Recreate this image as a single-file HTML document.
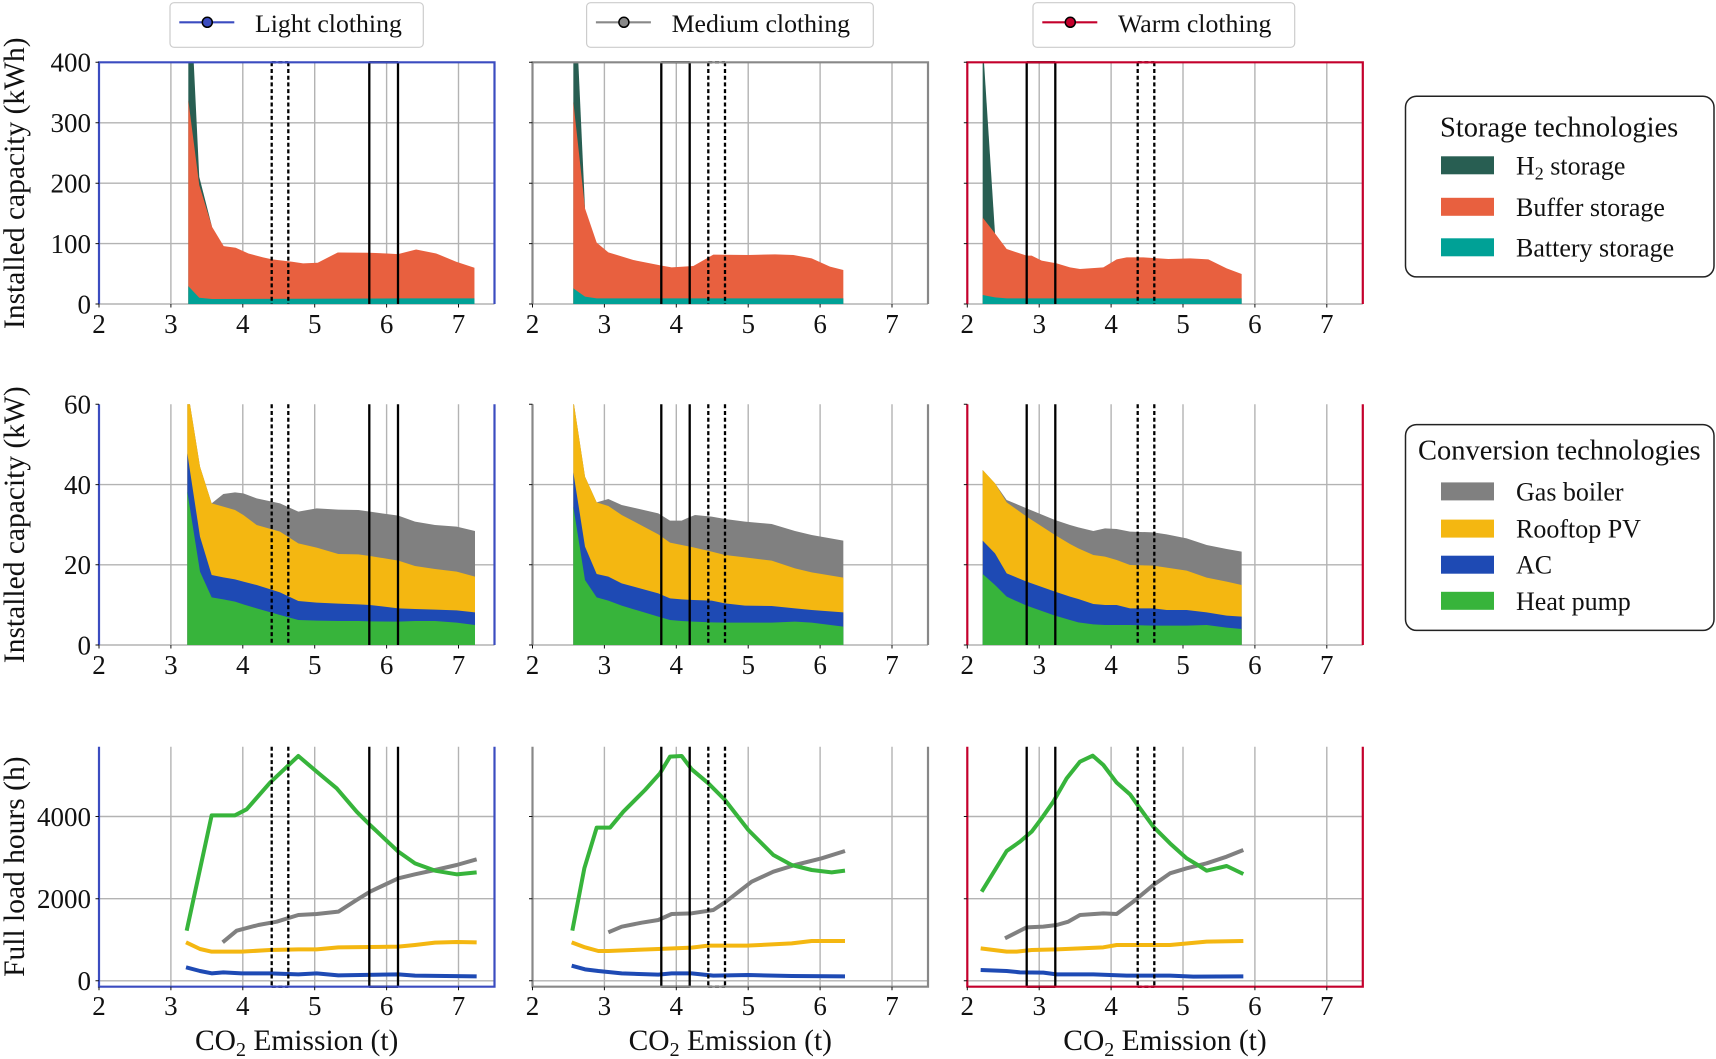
<!DOCTYPE html>
<html>
<head>
<meta charset="utf-8">
<style>
html,body{margin:0;padding:0;background:#fff;}
svg{display:block;}
text{font-family:"Liberation Serif","DejaVu Serif",serif;fill:#111;}
</style>
</head>
<body>
<svg width="1716" height="1059" viewBox="0 0 1716 1059" xmlns="http://www.w3.org/2000/svg">
<defs>
<clipPath id="c11"><rect x="99" y="62.3" width="395.5" height="241.7"/></clipPath>
<clipPath id="c12"><rect x="532.5" y="62.3" width="395.5" height="241.7"/></clipPath>
<clipPath id="c13"><rect x="967.3" y="62.3" width="395.5" height="241.7"/></clipPath>
<clipPath id="c21"><rect x="99" y="404.3" width="395.5" height="240.7"/></clipPath>
<clipPath id="c22"><rect x="532.5" y="404.3" width="395.5" height="240.7"/></clipPath>
<clipPath id="c23"><rect x="967.3" y="404.3" width="395.5" height="240.7"/></clipPath>
</defs>

<!-- ============ GRIDLINES ============ -->
<g stroke="#b3b3b3" stroke-width="1.4" fill="none">
  <!-- row1 -->
  <path d="M99,122.8H494.5M99,183.2H494.5M99,243.6H494.5M99,304H494.5
           M170.9,62.3V304M242.8,62.3V304M314.7,62.3V304M386.6,62.3V304M458.5,62.3V304"/>
  <path d="M532.5,122.8H928M532.5,183.2H928M532.5,243.6H928M532.5,304H928
           M604.4,62.3V304M676.3,62.3V304M748.2,62.3V304M820.1,62.3V304M892,62.3V304"/>
  <path d="M967.3,122.8H1362.8M967.3,183.2H1362.8M967.3,243.6H1362.8M967.3,304H1362.8
           M1039.2,62.3V304M1111.1,62.3V304M1183,62.3V304M1254.9,62.3V304M1326.8,62.3V304"/>
  <!-- row2 -->
  <path d="M99,484.6H494.5M99,564.8H494.5M99,645H494.5
           M170.9,404.3V645M242.8,404.3V645M314.7,404.3V645M386.6,404.3V645M458.5,404.3V645"/>
  <path d="M532.5,484.6H928M532.5,564.8H928M532.5,645H928
           M604.4,404.3V645M676.3,404.3V645M748.2,404.3V645M820.1,404.3V645M892,404.3V645"/>
  <path d="M967.3,484.6H1362.8M967.3,564.8H1362.8M967.3,645H1362.8
           M1039.2,404.3V645M1111.1,404.3V645M1183,404.3V645M1254.9,404.3V645M1326.8,404.3V645"/>
  <!-- row3 -->
  <path d="M99,816.5H494.5M99,898.7H494.5M99,980.8H494.5
           M170.9,746.7V986.7M242.8,746.7V986.7M314.7,746.7V986.7M386.6,746.7V986.7M458.5,746.7V986.7"/>
  <path d="M532.5,816.5H928M532.5,898.7H928M532.5,980.8H928
           M604.4,746.7V986.7M676.3,746.7V986.7M748.2,746.7V986.7M820.1,746.7V986.7M892,746.7V986.7"/>
  <path d="M967.3,816.5H1362.8M967.3,898.7H1362.8M967.3,980.8H1362.8
           M1039.2,746.7V986.7M1111.1,746.7V986.7M1183,746.7V986.7M1254.9,746.7V986.7M1326.8,746.7V986.7"/>
</g>

<!-- ============ ROW 1 : storage ============ -->
<g clip-path="url(#c11)">
  <g transform="matrix(0.3645 0 0 0.333 0.6 0.36)">
    <polygon fill="#285e52" points="515,912 515,-150 545,530 580,680 580,912"/>
    <polygon fill="#e8603f" points="515,912 515,300 545,555 580,680 612,738 645,743 680,760 720,772 745,778 800,785 830,790 870,788 925,757 1010,758 1060,760 1090,762 1140,748 1195,760 1250,785 1300,803 1300,912"/>
    <polygon fill="#00a196" points="515,912 515,858 545,893 580,897 1100,895 1300,895 1300,912"/>
  </g>
</g>
<g clip-path="url(#c12)">
  <g transform="translate(525,50) scale(0.33333)">
    <polygon fill="#285e52" points="145,762 145,-290 180,475 180,762"/>
    <polygon fill="#e8603f" points="145,762 145,155 180,475 215,578 250,607 325,630 410,647 440,652 505,648 565,614 670,615 750,613 805,615 860,625 915,650 955,660 955,762"/>
    <polygon fill="#00a196" points="145,762 145,715 180,740 215,745 955,745 955,762"/>
  </g>
</g>
<g clip-path="url(#c13)">
  <g transform="translate(960,50) scale(0.33333)">
    <polygon fill="#285e52" points="68,762 68,-25 105,550 105,762"/>
    <polygon fill="#e8603f" points="68,762 68,503 105,550 140,597 200,617 215,617 245,632 290,640 330,652 360,657 430,652 470,628 500,622 550,622 625,627 690,625 745,628 800,655 845,672 845,762"/>
    <polygon fill="#00a196" points="68,762 68,735 105,742 140,745 845,745 845,762"/>
  </g>
</g>

<!-- ============ ROW 2 : conversion ============ -->
<g clip-path="url(#c21)">
  <g transform="translate(90,395) scale(0.33333)">
    <polygon fill="#808080" points="292,750 292,-22 330,215 365,325 400,297 435,292 460,295 500,310 570,325 625,350 680,340 745,344 805,345 840,350 925,362 975,380 1035,390 1100,395 1155,408 1155,750"/>
    <polygon fill="#f4b711" points="292,750 292,-22 330,215 365,325 400,335 435,345 460,360 500,390 570,410 625,445 680,458 745,477 805,478 840,483 925,497 975,513 1035,522 1100,530 1155,545 1155,750"/>
    <polygon fill="#1e4ab4" points="292,750 292,175 330,425 365,540 400,547 435,553 460,560 500,570 570,592 625,618 680,623 745,626 805,628 840,630 925,640 975,642 1035,644 1100,646 1155,652 1155,750"/>
    <polygon fill="#37b43b" points="292,750 292,290 330,530 365,607 400,613 435,620 460,628 500,640 570,660 625,675 680,677 745,678 805,678 840,679 925,680 975,678 1035,678 1100,683 1155,690 1155,750"/>
  </g>
</g>
<g clip-path="url(#c22)">
  <g transform="translate(525,395) scale(0.33333)">
    <polygon fill="#808080" points="145,750 145,15 180,245 215,322 250,312 290,330 400,355 435,377 470,377 490,368 510,360 560,365 600,372 660,380 740,387 810,408 860,420 955,437 955,750"/>
    <polygon fill="#f4b711" points="145,750 145,15 180,245 215,322 250,333 290,360 400,418 435,443 470,450 505,457 560,470 600,480 660,487 740,497 810,520 860,532 955,548 955,750"/>
    <polygon fill="#1e4ab4" points="145,750 145,232 180,455 215,537 250,545 290,565 400,595 435,610 470,613 505,615 560,617 600,625 660,632 740,633 810,640 860,645 955,652 955,750"/>
    <polygon fill="#37b43b" points="145,750 145,335 180,555 215,607 250,617 290,632 400,665 435,675 470,678 505,680 560,682 600,683 660,683 740,683 810,680 860,683 955,695 955,750"/>
  </g>
</g>
<g clip-path="url(#c23)">
  <g transform="translate(960,395) scale(0.33333)">
    <polygon fill="#808080" points="68,750 68,225 105,265 140,315 200,340 285,375 330,390 355,397 400,408 435,400 470,402 510,410 580,412 620,418 680,430 740,450 800,462 845,470 845,750"/>
    <polygon fill="#f4b711" points="68,750 68,225 105,265 140,322 200,365 285,420 330,447 355,460 400,480 435,485 470,495 510,510 580,512 620,518 680,527 740,548 800,560 845,570 845,750"/>
    <polygon fill="#1e4ab4" points="68,750 68,437 105,475 140,535 200,560 285,590 330,605 355,612 400,627 435,630 470,630 510,640 580,640 620,645 680,645 740,652 800,662 845,665 845,750"/>
    <polygon fill="#37b43b" points="68,750 68,537 105,570 140,605 200,632 285,662 330,675 355,682 400,688 435,690 470,690 510,690 580,692 620,692 680,692 740,690 800,698 845,702 845,750"/>
  </g>
</g>

<!-- ============ ROW 3 : full load hours ============ -->
<g fill="none" stroke-width="12" stroke-linejoin="round">
  <g transform="translate(90,740) scale(0.33333)">
    <polyline stroke="#808080" points="398,607 440,572 505,555 560,545 625,525 680,522 745,515 800,480 840,455 925,415 975,403 1035,390 1100,375 1160,358"/>
    <polyline stroke="#f4b711" points="288,607 330,627 365,635 455,635 540,630 625,628 680,628 745,622 925,620 975,615 1035,608 1100,606 1160,607"/>
    <polyline stroke="#1e4ab4" points="288,682 330,693 365,700 400,697 455,700 540,700 625,703 680,700 745,706 925,703 975,707 1160,709"/>
    <polyline stroke="#37b43b" points="290,572 365,226 435,226 470,208 540,128 625,48 680,95 740,145 800,215 840,255 925,335 975,370 1035,392 1100,403 1160,397"/>
  </g>
  <g transform="translate(525,740) scale(0.33333)">
    <polyline stroke="#808080" points="250,577 290,560 350,548 400,540 440,522 500,520 565,510 600,487 680,425 745,395 810,375 890,355 960,333"/>
    <polyline stroke="#f4b711" points="140,607 180,622 220,633 250,633 400,627 500,623 550,617 665,617 800,610 860,603 960,603"/>
    <polyline stroke="#1e4ab4" points="140,677 180,688 220,693 290,700 400,704 440,700 500,700 565,707 670,705 800,708 960,709"/>
    <polyline stroke="#37b43b" points="142,572 178,385 215,263 255,263 295,215 360,150 405,100 435,50 470,48 500,88 550,130 600,180 670,270 745,345 800,375 860,390 920,397 960,392"/>
  </g>
  <g transform="translate(960,740) scale(0.33333)">
    <polyline stroke="#808080" points="135,595 200,562 250,560 290,555 325,545 360,525 430,520 470,522 520,485 580,435 630,400 680,385 740,370 800,350 850,330"/>
    <polyline stroke="#f4b711" points="62,625 140,635 170,635 215,630 290,628 360,625 430,622 470,615 630,615 740,605 850,603"/>
    <polyline stroke="#1e4ab4" points="62,690 140,693 180,697 250,698 290,703 400,703 500,707 630,707 700,710 850,709"/>
    <polyline stroke="#37b43b" points="65,455 140,333 180,305 215,275 245,235 280,185 320,115 360,65 398,47 430,75 470,128 510,163 540,205 580,260 630,310 680,355 710,373 740,392 800,378 850,402"/>
  </g>
</g>

<!-- ============ VERTICAL MARKER LINES ============ -->
<g stroke="#000" stroke-width="2.3" fill="none">
  <!-- col1 solid -->
  <path d="M369.3,62.3V304M398,62.3V304M369.3,62.3H398
           M369.3,404.3V645M398,404.3V645
           M369.3,746.7V986.7M398,746.7V986.7M369.3,986.7H398"/>
  <!-- col2 solid -->
  <path d="M661.3,62.3V304M689.7,62.3V304M661.3,62.3H689.7
           M661.3,404.3V645M689.7,404.3V645
           M661.3,746.7V986.7M689.7,746.7V986.7M661.3,986.7H689.7"/>
  <!-- col3 solid -->
  <path d="M1026.7,62.3V304M1055.3,62.3V304M1026.7,62.3H1055.3
           M1026.7,404.3V645M1055.3,404.3V645
           M1026.7,746.7V986.7M1055.3,746.7V986.7M1026.7,986.7H1055.3"/>
</g>
<g stroke="#000" stroke-width="2.3" fill="none" stroke-dasharray="4 2.7">
  <path d="M271.7,62.3V304M288.3,62.3V304M271.7,62.3H288.3
           M271.7,404.3V645M288.3,404.3V645
           M271.7,746.7V986.7M288.3,746.7V986.7M271.7,986.7H288.3"/>
  <path d="M708.3,62.3V304M725,62.3V304M708.3,62.3H725
           M708.3,404.3V645M725,404.3V645
           M708.3,746.7V986.7M725,746.7V986.7M708.3,986.7H725"/>
  <path d="M1137.7,62.3V304M1154.3,62.3V304M1137.7,62.3H1154.3
           M1137.7,404.3V645M1154.3,404.3V645
           M1137.7,746.7V986.7M1154.3,746.7V986.7M1137.7,986.7H1154.3"/>
</g>

<!-- ============ SPINES ============ -->
<g fill="none" stroke-width="2.2">
  <path stroke="#3b4cc0" d="M99,304V62.3H494.5V304 M99,404.3V645 M494.5,404.3V645 M99,746.7V986.7H494.5V746.7"/>
  <path stroke="#888888" d="M532.5,304V62.3H928V304 M532.5,404.3V645 M928,404.3V645 M532.5,746.7V986.7H928V746.7"/>
  <path stroke="#c4002c" d="M967.3,304V62.3H1362.8V304 M967.3,404.3V645 M1362.8,404.3V645 M967.3,746.7V986.7H1362.8V746.7"/>
</g>

<!-- ============ TICK MARKS ============ -->
<g stroke="#111" stroke-width="1">
  <path d="M95.5,62.3H99M95.5,122.8H99M95.5,183.2H99M95.5,243.6H99M95.5,304H99
           M529,62.3H532.5M529,122.8H532.5M529,183.2H532.5M529,243.6H532.5M529,304H532.5
           M963.8,62.3H967.3M963.8,122.8H967.3M963.8,183.2H967.3M963.8,243.6H967.3M963.8,304H967.3
           M95.5,404.3H99M95.5,484.6H99M95.5,564.8H99M95.5,645H99
           M529,404.3H532.5M529,484.6H532.5M529,564.8H532.5M529,645H532.5
           M963.8,404.3H967.3M963.8,484.6H967.3M963.8,564.8H967.3M963.8,645H967.3
           M95.5,816.5H99M95.5,898.7H99M95.5,980.8H99
           M529,816.5H532.5M529,898.7H532.5M529,980.8H532.5
           M963.8,816.5H967.3M963.8,898.7H967.3M963.8,980.8H967.3"/>
  <path d="M99,304V307.5M170.9,304V307.5M242.8,304V307.5M314.7,304V307.5M386.6,304V307.5M458.5,304V307.5
           M532.5,304V307.5M604.4,304V307.5M676.3,304V307.5M748.2,304V307.5M820.1,304V307.5M892,304V307.5
           M967.3,304V307.5M1039.2,304V307.5M1111.1,304V307.5M1183,304V307.5M1254.9,304V307.5M1326.8,304V307.5
           M99,645V648.5M170.9,645V648.5M242.8,645V648.5M314.7,645V648.5M386.6,645V648.5M458.5,645V648.5
           M532.5,645V648.5M604.4,645V648.5M676.3,645V648.5M748.2,645V648.5M820.1,645V648.5M892,645V648.5
           M967.3,645V648.5M1039.2,645V648.5M1111.1,645V648.5M1183,645V648.5M1254.9,645V648.5M1326.8,645V648.5
           M99,986.7V990.2M170.9,986.7V990.2M242.8,986.7V990.2M314.7,986.7V990.2M386.6,986.7V990.2M458.5,986.7V990.2
           M532.5,986.7V990.2M604.4,986.7V990.2M676.3,986.7V990.2M748.2,986.7V990.2M820.1,986.7V990.2M892,986.7V990.2
           M967.3,986.7V990.2M1039.2,986.7V990.2M1111.1,986.7V990.2M1183,986.7V990.2M1254.9,986.7V990.2M1326.8,986.7V990.2"/>
</g>

<!-- ============ Y TICK LABELS ============ -->
<g font-size="27" text-anchor="end">
  <text x="91" y="71.6">400</text><text x="91" y="132.1">300</text><text x="91" y="192.5">200</text><text x="91" y="252.9">100</text><text x="91" y="313.3">0</text>
  <text x="91" y="413.6">60</text><text x="91" y="493.9">40</text><text x="91" y="574.1">20</text><text x="91" y="654.3">0</text>
  <text x="91" y="825.8">4000</text><text x="91" y="908">2000</text><text x="91" y="990.1">0</text>
</g>

<!-- ============ X TICK LABELS ============ -->
<g font-size="27" text-anchor="middle">
  <text x="99" y="333">2</text><text x="170.9" y="333">3</text><text x="242.8" y="333">4</text><text x="314.7" y="333">5</text><text x="386.6" y="333">6</text><text x="458.5" y="333">7</text>
  <text x="532.5" y="333">2</text><text x="604.4" y="333">3</text><text x="676.3" y="333">4</text><text x="748.2" y="333">5</text><text x="820.1" y="333">6</text><text x="892" y="333">7</text>
  <text x="967.3" y="333">2</text><text x="1039.2" y="333">3</text><text x="1111.1" y="333">4</text><text x="1183" y="333">5</text><text x="1254.9" y="333">6</text><text x="1326.8" y="333">7</text>

  <text x="99" y="674">2</text><text x="170.9" y="674">3</text><text x="242.8" y="674">4</text><text x="314.7" y="674">5</text><text x="386.6" y="674">6</text><text x="458.5" y="674">7</text>
  <text x="532.5" y="674">2</text><text x="604.4" y="674">3</text><text x="676.3" y="674">4</text><text x="748.2" y="674">5</text><text x="820.1" y="674">6</text><text x="892" y="674">7</text>
  <text x="967.3" y="674">2</text><text x="1039.2" y="674">3</text><text x="1111.1" y="674">4</text><text x="1183" y="674">5</text><text x="1254.9" y="674">6</text><text x="1326.8" y="674">7</text>

  <text x="99" y="1015">2</text><text x="170.9" y="1015">3</text><text x="242.8" y="1015">4</text><text x="314.7" y="1015">5</text><text x="386.6" y="1015">6</text><text x="458.5" y="1015">7</text>
  <text x="532.5" y="1015">2</text><text x="604.4" y="1015">3</text><text x="676.3" y="1015">4</text><text x="748.2" y="1015">5</text><text x="820.1" y="1015">6</text><text x="892" y="1015">7</text>
  <text x="967.3" y="1015">2</text><text x="1039.2" y="1015">3</text><text x="1111.1" y="1015">4</text><text x="1183" y="1015">5</text><text x="1254.9" y="1015">6</text><text x="1326.8" y="1015">7</text>
</g>

<!-- ============ AXIS LABELS ============ -->
<g font-size="29.5" text-anchor="middle">
  <text transform="translate(24,183.2) rotate(-90)">Installed capacity (kWh)</text>
  <text transform="translate(24,524.7) rotate(-90)">Installed capacity (kW)</text>
  <text transform="translate(24,866.7) rotate(-90)">Full load hours (h)</text>
  <text x="296.7" y="1050">CO<tspan dy="6" font-size="20">2</tspan><tspan dy="-6"> Emission (t)</tspan></text>
  <text x="730.3" y="1050">CO<tspan dy="6" font-size="20">2</tspan><tspan dy="-6"> Emission (t)</tspan></text>
  <text x="1165" y="1050">CO<tspan dy="6" font-size="20">2</tspan><tspan dy="-6"> Emission (t)</tspan></text>
</g>

<!-- ============ TOP LEGENDS ============ -->
<g font-size="25.8">
  <rect x="170" y="2.7" width="253.3" height="44.6" rx="4" fill="#fff" stroke="#cccccc" stroke-width="1.2"/>
  <line x1="179.3" y1="22.3" x2="234.3" y2="22.3" stroke="#3b4cc0" stroke-width="2.2"/>
  <circle cx="207.3" cy="22.3" r="5" fill="#3b4cc0" stroke="#000" stroke-width="1.5"/>
  <text x="255" y="32">Light clothing</text>

  <rect x="586.6" y="2.7" width="286.7" height="44.6" rx="4" fill="#fff" stroke="#cccccc" stroke-width="1.2"/>
  <line x1="595.9" y1="22.3" x2="650.9" y2="22.3" stroke="#888888" stroke-width="2.2"/>
  <circle cx="623.9" cy="22.3" r="5" fill="#888888" stroke="#000" stroke-width="1.5"/>
  <text x="671.6" y="32">Medium clothing</text>

  <rect x="1033" y="2.7" width="261.7" height="44.6" rx="4" fill="#fff" stroke="#cccccc" stroke-width="1.2"/>
  <line x1="1042.3" y1="22.3" x2="1097.3" y2="22.3" stroke="#c4002c" stroke-width="2.2"/>
  <circle cx="1070.3" cy="22.3" r="5" fill="#c4002c" stroke="#000" stroke-width="1.5"/>
  <text x="1118" y="32">Warm clothing</text>
</g>

<!-- ============ RIGHT LEGENDS ============ -->
<g>
  <rect x="1405.5" y="96.3" width="308.5" height="180.6" rx="11" fill="#fff" stroke="#222" stroke-width="1.5"/>
  <text x="1440" y="136.5" font-size="28.5">Storage technologies</text>
  <rect x="1441" y="156.3" width="53" height="18" fill="#285e52"/>
  <rect x="1441" y="197.8" width="53" height="18" fill="#e8603f"/>
  <rect x="1441" y="238.3" width="53" height="18" fill="#00a196"/>
  <g font-size="26">
    <text x="1516" y="174.3">H<tspan dy="5" font-size="18">2</tspan><tspan dy="-5"> storage</tspan></text>
    <text x="1516" y="215.8">Buffer storage</text>
    <text x="1516" y="256.3">Battery storage</text>
  </g>

  <rect x="1405.5" y="424.6" width="308.5" height="205.8" rx="11" fill="#fff" stroke="#222" stroke-width="1.5"/>
  <text x="1418" y="459.3" font-size="28.5">Conversion technologies</text>
  <rect x="1441" y="482.4" width="53" height="18" fill="#808080"/>
  <rect x="1441" y="519.6" width="53" height="18" fill="#f4b711"/>
  <rect x="1441" y="555.7" width="53" height="18" fill="#1e4ab4"/>
  <rect x="1441" y="591.8" width="53" height="18" fill="#37b43b"/>
  <g font-size="26">
    <text x="1516" y="500.4">Gas boiler</text>
    <text x="1516" y="537.6">Rooftop PV</text>
    <text x="1516" y="573.7">AC</text>
    <text x="1516" y="609.8">Heat pump</text>
  </g>
</g>
</svg>
</body>
</html>
